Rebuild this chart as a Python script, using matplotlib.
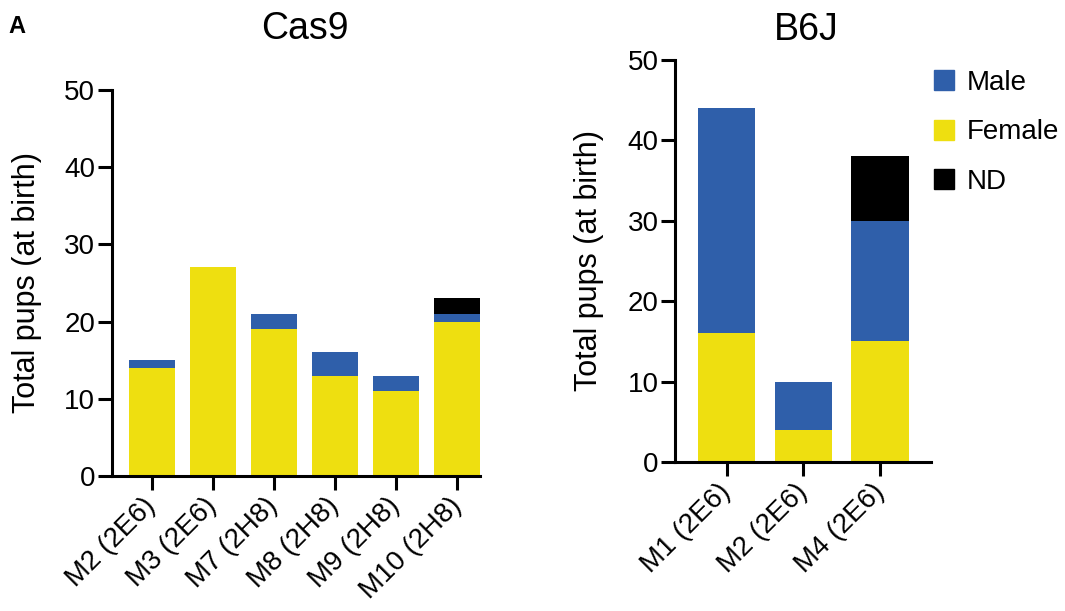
import matplotlib
matplotlib.use("Agg")
import matplotlib.pyplot as plt
import numpy as np
from matplotlib.patches import Patch

# Cas9 group
cas9_labels = ["M2 (2E6)", "M3 (2E6)", "M7 (2H8)", "M8 (2H8)", "M9 (2H8)", "M10 (2H8)"]
cas9_female = [14, 27, 19, 13, 11, 20]
cas9_male = [1, 0, 2, 3, 2, 1]
cas9_nd = [0, 0, 0, 0, 0, 2]

# B6J group
b6j_labels = ["M1 (2E6)", "M2 (2E6)", "M4 (2E6)"]
b6j_female = [16, 4, 15]
b6j_male = [28, 6, 15]
b6j_nd = [0, 0, 8]

yticks = [0, 10, 20, 30, 40, 50]

BLUE = "#2f5faa"
YELLOW = "#eedf10"
BLACK = "#000000"

plt.rcParams["font.family"] = ["Liberation Sans", "DejaVu Sans"]

fig = plt.figure(figsize=(10.65, 6.11), dpi=100)


def stacked(ax, labels, female, male, nd, xlim):
    x = np.arange(len(labels))
    female = np.array(female)
    male = np.array(male)
    nd = np.array(nd)
    ax.bar(x, female, width=0.75, color=YELLOW, edgecolor="none")
    ax.bar(x, male, width=0.75, bottom=female, color=BLUE, edgecolor="none")
    ax.bar(x, nd, width=0.75, bottom=female + male, color=BLACK, edgecolor="none")
    ax.set_xlim(*xlim)
    ax.set_ylim(0, 50)
    ax.set_yticks(yticks)
    ax.set_xticks(x)
    ax.set_xticklabels(labels, rotation=45, ha="right", va="center",
                       rotation_mode="anchor", fontsize=21.5)
    for s in ["top", "right"]:
        ax.spines[s].set_visible(False)
    for s in ["left", "bottom"]:
        ax.spines[s].set_linewidth(2.2)
    ax.tick_params(axis="both", width=2.2, length=10, labelsize=20, pad=2)
    ax.tick_params(axis="x", pad=9)
    ax.set_ylabel("Total pups (at birth)", fontsize=22)


# left panel
ax1 = fig.add_axes([0.105, 0.221, 0.346, 0.632])
stacked(ax1, cas9_labels, cas9_female, cas9_male, cas9_nd, (-0.65, 5.375))
ax1.yaxis.set_label_coords(-0.19, 0.5)

# right panel
ax2 = fig.add_axes([0.634, 0.244, 0.240, 0.658])
stacked(ax2, b6j_labels, b6j_female, b6j_male, b6j_nd, (-0.67, 2.66))
ax2.yaxis.set_label_coords(-0.28, 0.5)

fig.text(0.286, 0.953, "Cas9", ha="center", va="center", fontsize=27)
fig.text(0.757, 0.951, "B6J", ha="center", va="center", fontsize=27)
fig.text(0.008, 0.957, "A", ha="left", va="center", fontsize=17, fontweight="bold")

handles = [Patch(color=BLUE, label="Male"),
           Patch(color=YELLOW, label="Female"),
           Patch(color=BLACK, label="ND")]
fig.legend(handles=handles, loc="upper left", bbox_to_anchor=(0.867, 0.904),
           frameon=False, fontsize=20, handlelength=0.72, handleheight=0.72,
           labelspacing=0.85, handletextpad=0.45, borderaxespad=0.0)

fig.savefig("out.png", dpi=100)
